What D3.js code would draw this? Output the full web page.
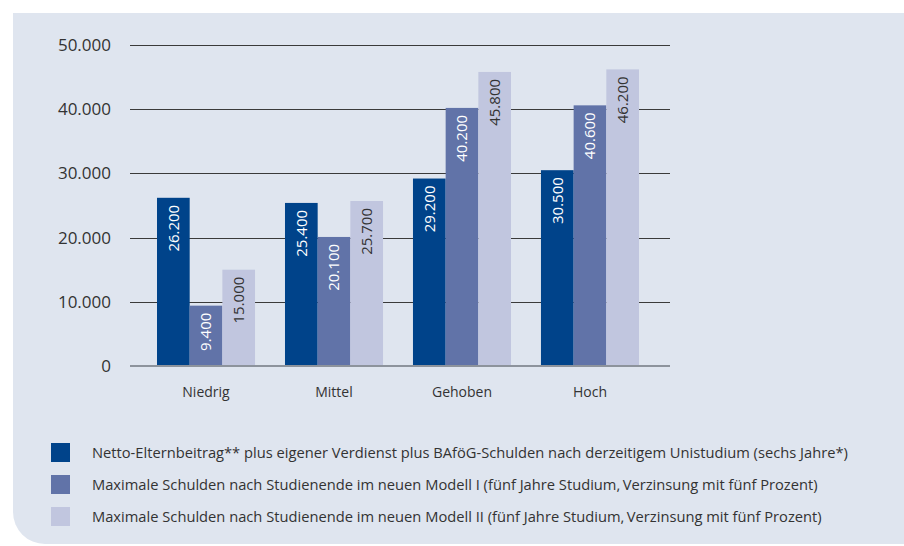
<!DOCTYPE html>
<meta charset="utf-8">
<style>
  body { margin: 0; background: #fff; }
  svg text { font-family: "Open Sans", "Noto Sans", sans-serif; fill: #333; }
</style>
<svg width="904" height="546"></svg>
<script src="https://d3js.org/d3.v7.min.js"></script>
<script>
  var categories = ["Niedrig", "Mittel", "Gehoben", "Hoch"];
  var seriesNames = [
    "Netto-Elternbeitrag** plus eigener Verdienst plus BAföG-Schulden nach derzeitigem Unistudium (sechs Jahre*)",
    "Maximale Schulden nach Studienende im neuen Modell I (fünf Jahre Studium,\u2009Verzinsung mit fünf Prozent)",
    "Maximale Schulden nach Studienende im neuen Modell II (fünf Jahre Studium,\u2009Verzinsung mit fünf Prozent)"
  ];
  var aktuell = [26200, 25400, 29200, 30500];
  var modell1 = [9400, 20100, 40200, 40600];
  var modell2 = [15000, 25700, 45800, 46200];
  var yTicks = [0, 10000, 20000, 30000, 40000, 50000];

  var colors = ["#00438a", "#6173a8", "#c1c6df"];
  var labelColors = ["#fff", "#fff", "#333"];
  var series = [aktuell, modell1, modell2];

  var svg = d3.select("svg");
  var fmt = d3.formatLocale({decimal: ",", thousands: ".", grouping: [3], currency: ["", "€"]}).format(",d");

  // panel with rounded lower-left corner
  var px = 13, py = 13, pw = 904 - 13, ph = 544 - 13, rr = 32;
  svg.append("path")
    .attr("d", "M" + px + "," + py + "H" + (px + pw) + "V" + (py + ph) + "H" + (px + rr) +
      "A" + rr + "," + rr + " 0 0 1 " + px + "," + (py + ph - rr) + "Z")
    .attr("fill", "#dfe5ef");

  var y = d3.scaleLinear().domain([0, 50000]).range([366, 45]);
  var x0 = d3.scaleBand().domain(categories).range([130, 666])
    .paddingInner(0.234).paddingOuter(0.211);
  var x1 = d3.scaleBand().domain([0, 1, 2]).range([0, x0.bandwidth()]);

  // gridlines
  svg.append("g").selectAll("line")
    .data(yTicks.filter(d => d > 0))
    .enter().append("line")
    .attr("x1", 130).attr("x2", 670)
    .attr("y1", d => Math.round(y(d)) + 0.5).attr("y2", d => Math.round(y(d)) + 0.5)
    .attr("stroke", "#3a3a3a").attr("stroke-width", 1);

  svg.append("g").selectAll("text")
    .data(yTicks)
    .enter().append("text")
    .attr("x", 111).attr("y", d => y(d))
    .attr("dy", "0.35em")
    .attr("text-anchor", "end")
    .style("font-size", "17px")
    .text(d => d === 0 ? "0" : fmt(d));

  // bars
  var groups = svg.append("g").selectAll("g")
    .data(categories)
    .enter().append("g")
    .attr("transform", d => "translate(" + x0(d) + ",0)");

  groups.selectAll("rect")
    .data((c, ci) => series.map((s, si) => ({si: si, v: s[ci]})))
    .enter().append("rect")
    .attr("x", d => x1(d.si))
    .attr("width", x1.bandwidth())
    .attr("y", d => y(d.v))
    .attr("height", d => y(0) - y(d.v))
    .attr("fill", d => colors[d.si]);

  groups.selectAll("text.val")
    .data((c, ci) => series.map((s, si) => ({si: si, v: s[ci]})))
    .enter().append("text")
    .attr("class", "val")
    .attr("transform", d => "translate(" + (x1(d.si) + x1.bandwidth() / 2) + "," + (y(d.v) + 7) + ") rotate(-90)")
    .attr("text-anchor", "end")
    .attr("dy", "0.35em")
    .style("font-size", "15px")
    .style("fill", d => labelColors[d.si])
    .text(d => fmt(d.v));

  // baseline
  svg.append("line")
    .attr("x1", 130).attr("x2", 670)
    .attr("y1", y(0)).attr("y2", y(0))
    .attr("stroke", "#8d939c").attr("stroke-width", 2);

  // category labels
  svg.append("g").selectAll("text")
    .data(categories)
    .enter().append("text")
    .attr("x", d => x0(d) + x0.bandwidth() / 2)
    .attr("y", 392).attr("dy", "0.35em")
    .attr("text-anchor", "middle")
    .style("font-size", "14px")
    .text(d => d);

  // legend
  var leg = svg.append("g").selectAll("g")
    .data(seriesNames)
    .enter().append("g")
    .attr("transform", (d, i) => "translate(51," + (443 + i * 32) + ")");
  leg.append("rect").attr("width", 19).attr("height", 19).attr("fill", (d, i) => colors[i]);
  leg.append("text")
    .attr("x", 41).attr("y", 10).attr("dy", "0.35em")
    .style("font-size", "14.7px")
    .text(d => d);
</script>
